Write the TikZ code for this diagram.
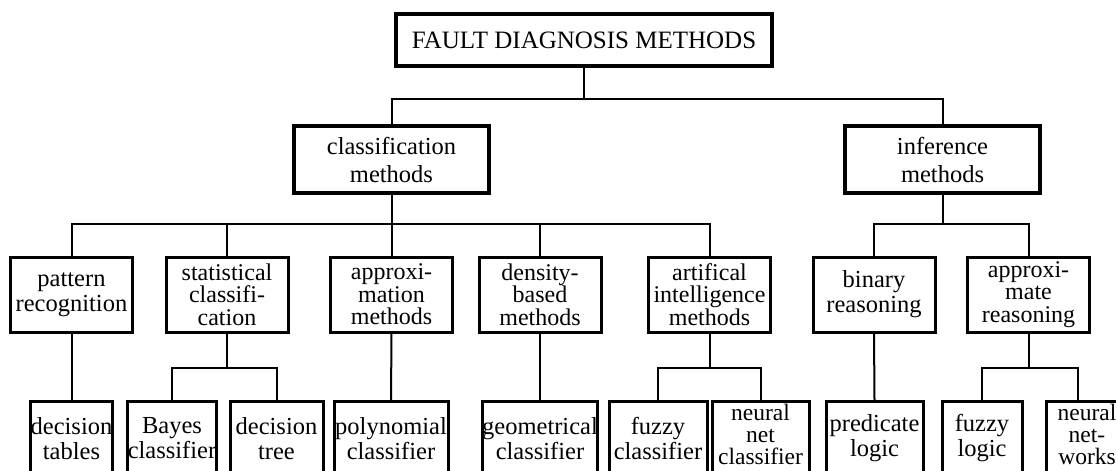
\documentclass[tikz,border=0pt]{standalone}
\usepackage{fontspec}
\setmainfont{Liberation Serif}

\begin{document}
\begin{tikzpicture}[
  x=1pt, y=-1pt,
  font=\fontsize{24.5}{25}\selectfont,
  root/.style={draw, line width=4pt, minimum width=376pt, minimum height=52pt,
    inner sep=0pt, font=\fontsize{25}{25}\selectfont},
  grp/.style={draw, line width=4pt, minimum width=195pt, minimum height=67pt,
    align=center, inner sep=0pt, font=\fontsize{24.5}{28}\selectfont},
  cat/.style={draw, line width=3pt, minimum width=122pt, minimum height=75pt,
    align=center, inner xsep=1pt, inner ysep=0pt},
  leaf/.style={draw, line width=3pt, minimum height=74pt, anchor=north,
    align=center, inner xsep=0pt, inner ysep=0pt},
  tight/.style={font=\fontsize{24}{22.5}\selectfont},
  tri/.style={font=\fontsize{23.5}{22}\selectfont, text depth=9pt},
  link/.style={line width=2pt},
]
  \useasboundingbox (0,0) rectangle (1116,471);
  \clip (0,0) rectangle (1116,471);

  % top and first level
  \node[root] (fdm) at (584,40) {FAULT DIAGNOSIS METHODS};
  \node[grp] (cls) at (391.5,159.5) {classification\\methods};
  \node[grp] (inf) at (942.5,159.5) {inference\\methods};

  % second level
  \node[cat] (pat) at (71.5,294.5) {pattern\\recognition};
  \node[cat, tight] (sta) at (227,294.5) {statistical\\classifi-\\cation};
  \node[cat, tight] (apx) at (391.5,294.5) {approxi-\\mation\\methods};
  \node[cat, tight] (den) at (540,294.5) {density-\\based\\methods};
  \node[cat, tight] (art) at (709.5,294.5) {artifical\\intelligence\\methods};
  \node[cat] (bin) at (874,294.5) {binary\\reasoning};
  \node[cat, tight] (apr) at (1028.5,294.5) {approxi-\\mate\\reasoning};

  % leaves
  \node[leaf, minimum width=81pt] (dtab) at (71.5,400) {decision\\tables};
  \node[leaf, minimum width=89pt] (bay) at (172,400) {Bayes\\classifier};
  \node[leaf, minimum width=93pt] (dtre) at (276.5,400) {decision\\tree};
  \node[leaf, minimum width=114pt] (pol) at (391,400) {polynomial\\classifier};
  \node[leaf, minimum width=114pt] (geo) at (540,400) {geometrical\\classifier};
  \node[leaf, minimum width=98pt] (fzc) at (658,400) {fuzzy\\classifier};
  \node[leaf, minimum width=97pt, tri] (nnc) at (760.5,400) {neural\\net\\classifier};
  \node[leaf, minimum width=97pt] (pre) at (874.5,400) {predicate\\logic};
  \node[leaf, minimum width=80pt] (fzl) at (982,400) {fuzzy\\logic};
  \node[leaf, minimum width=82pt, tri] (nnw) at (1087,400) {neural\\net-\\works};

  % junctions
  \coordinate (j0) at (584,99);
  \coordinate (j1) at (391.5,224);
  \coordinate (j2) at (942.5,224);
  \coordinate (j3) at (227,368);
  \coordinate (j4) at (709.5,368);
  \coordinate (j5) at (1028.5,368);

  \draw[link] (fdm.south) -- (j0);
  \draw[link] (cls.north) |- (j0) -| (inf.north);
  \draw[link] (cls.south) -- (j1);
  \draw[link] (inf.south) -- (j2);
  \foreach \c in {pat, sta, apx, den, art}
    \draw[link] (\c.north) |- (j1);
  \foreach \c in {bin, apr}
    \draw[link] (\c.north) |- (j2);

  \draw[link] (pat.south) -- (dtab.north);
  \draw[link] (apx.south) -- (pol.north);
  \draw[link] (den.south) -- (geo.north);
  \draw[link] (bin.south) -- (pre.north);

  \draw[link] (sta.south) -- (j3);
  \draw[link] (bay.north) |- (j3) -| (dtre.north);
  \draw[link] (art.south) -- (j4);
  \draw[link] (fzc.north) |- (j4) -| (nnc.north);
  \draw[link] (apr.south) -- (j5);
  \draw[link] (fzl.north) |- (j5) -| ([xshift=-9pt]nnw.north);
\end{tikzpicture}
\end{document}
